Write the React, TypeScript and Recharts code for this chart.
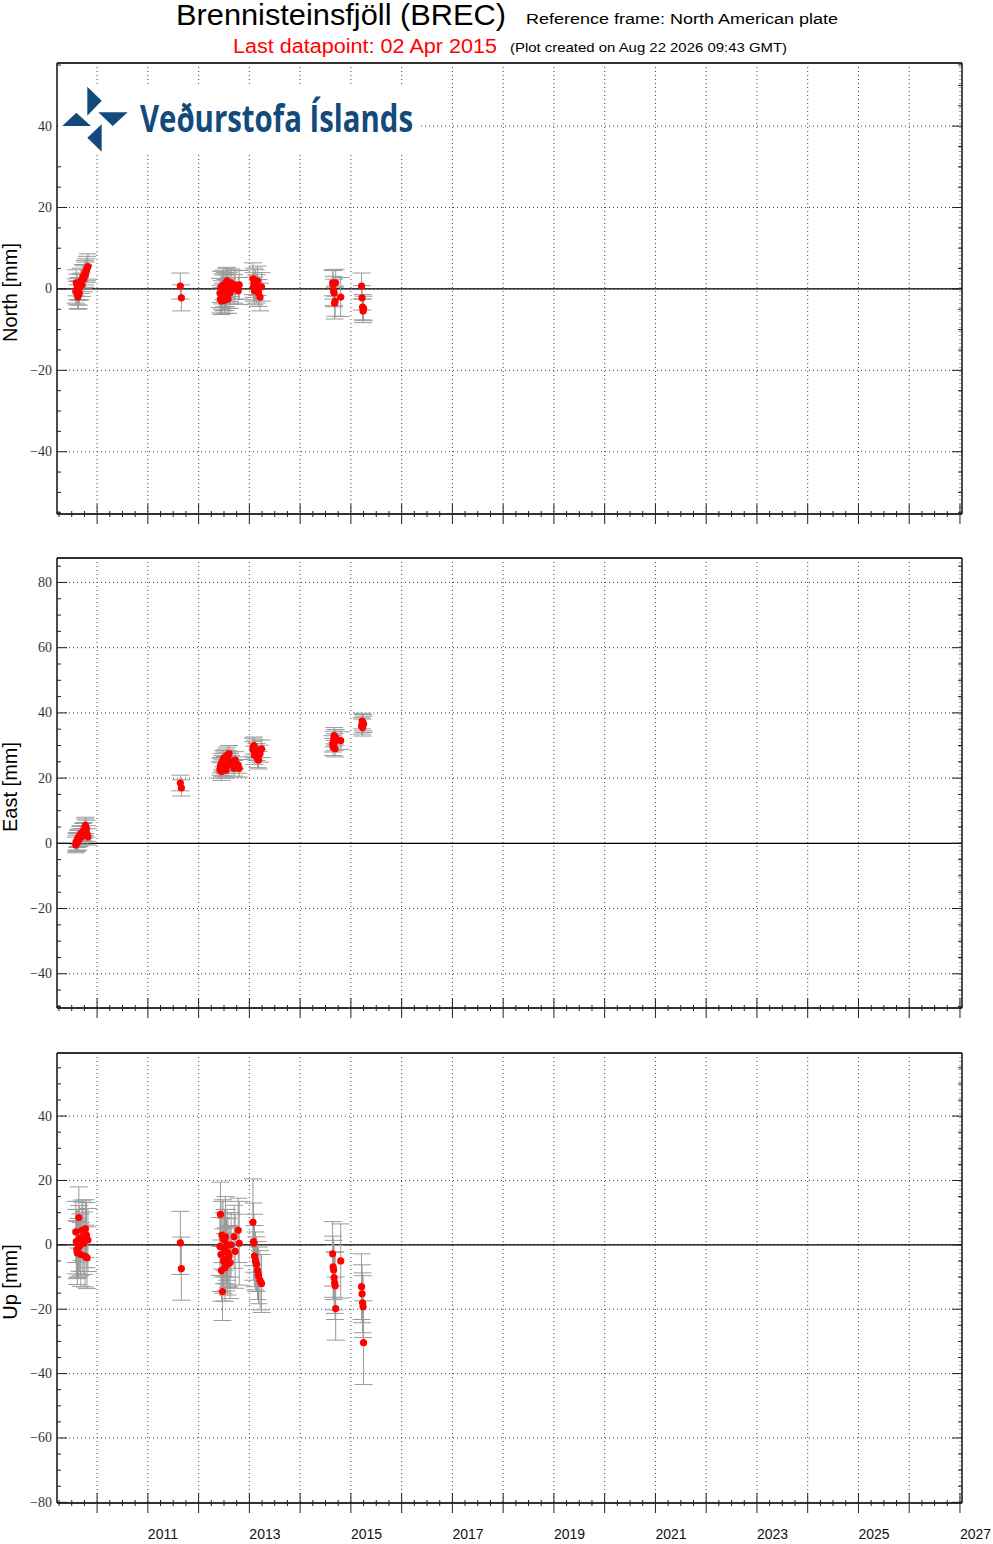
import React from "react";
import {
  CartesianGrid,
  ErrorBar,
  ReferenceLine,
  Scatter,
  ScatterChart,
  XAxis,
  YAxis,
} from "recharts";

// decimal-year epochs of the campaign measurements
const times = [
  2009.58, 2009.59, 2009.6, 2009.61, 2009.62, 2009.63, 2009.64, 2009.65, 2009.67, 2009.68,
  2009.7, 2009.72, 2009.74, 2009.76, 2009.77, 2009.79, 2009.8, 2009.82,
  2011.64, 2011.66,
  2012.42, 2012.43, 2012.44, 2012.45, 2012.46, 2012.47, 2012.48, 2012.49, 2012.5, 2012.51,
  2012.52, 2012.53, 2012.54, 2012.55, 2012.56, 2012.57, 2012.58, 2012.6, 2012.62, 2012.64,
  2012.7, 2012.72, 2012.78, 2012.8,
  2013.07, 2013.08, 2013.09, 2013.1, 2013.12, 2013.14, 2013.16, 2013.18, 2013.21, 2013.24,
  2014.64, 2014.65, 2014.66, 2014.67, 2014.68, 2014.69, 2014.7, 2014.8,
  2015.21, 2015.22, 2015.23, 2015.24, 2015.25,
];

const north = [
  -0.5, 1.5, -1.0, 0.5, -2.0, -1.5, 0.0, -1.0, 0.5, 2.0, 1.0, 3.0, 2.5, 4.0, 3.5, 4.5, 5.0, 5.5,
  0.7, -2.2,
  -1.0, -2.5, 0.5, -3.0, -1.5, 0.0, -2.0, 1.0, -0.5, -2.8, 0.5, -1.5, 1.5, -1.0, 2.0, 0.0,
  -2.5, 0.5, -1.0, 1.5, 0.0, 1.0, -0.5, 1.0,
  2.5, 0.5, 1.5, -0.5, 1.0, 0.0, 2.0, -1.0, -2.0, 0.5,
  1.5, 1.0, -0.5, -1.0, -3.5, -3.0, 1.5, -2.0,
  0.7, -2.2, -4.5, -5.4, -4.8,
];
const northErr = [
  3.0, 3.2, 2.9, 3.1, 3.0, 3.3, 2.8, 3.0, 3.2, 3.1, 2.9, 3.0, 3.2, 3.0, 3.1, 2.9, 3.0, 3.1,
  3.2, 3.2,
  3.6, 3.4, 3.8, 3.3, 3.5, 3.7, 3.4, 3.6, 3.9, 3.2, 3.5, 3.8, 3.6, 3.4, 3.3, 3.7,
  3.5, 3.6, 3.8, 3.4, 3.5, 3.6, 3.3, 3.5,
  3.9, 3.5, 3.6, 3.4, 3.7, 3.5, 3.6, 3.3, 3.4, 3.5,
  3.2, 3.5, 3.6, 3.4, 3.9, 3.7, 3.3, 4.8,
  3.2, 3.0, 3.1, 2.9, 3.0,
];

const east = [
  -0.5, 0.5, 0.0, 1.0, 1.5, 0.5, 2.0, 1.5, 2.5, 3.0, 2.0, 3.5, 4.0, 5.0, 5.5, 4.5, 3.0, 2.0,
  18.5, 17.0,
  22.5, 23.5, 24.0, 22.0, 25.0, 23.0, 24.5, 26.0, 23.5, 25.5, 24.0, 26.5, 22.5, 25.0, 27.0, 24.0,
  26.0, 27.5, 25.0, 24.5, 23.0, 25.5, 24.0, 23.0,
  29.5, 28.5, 30.0, 27.0, 29.0, 28.0, 26.0, 25.5, 27.5, 29.0,
  30.5, 29.5, 32.0, 33.0, 31.0, 29.0, 32.5, 31.5,
  36.0, 37.5, 35.5, 37.0, 36.5,
];
const eastErr = [
  2.4, 2.6, 2.5, 2.3, 2.5, 2.6, 2.4, 2.5, 2.7, 2.4, 2.5, 2.6, 2.4, 2.5, 2.5, 2.6, 2.4, 2.5,
  2.4, 2.5,
  2.5, 2.6, 2.4, 2.7, 2.5, 2.6, 2.4, 2.5, 2.8, 2.5, 2.6, 2.4, 2.5, 2.7, 2.5, 2.6,
  2.4, 2.5, 2.6, 2.5, 2.4, 2.6, 2.5, 2.7,
  2.8, 2.7, 2.6, 2.8, 2.7, 2.6, 2.8, 2.7, 2.6, 2.7,
  2.5, 2.6, 2.4, 2.5, 2.6, 2.5, 2.4, 2.7,
  2.5, 2.4, 2.6, 2.5, 2.5,
];

const up = [
  4.0, 1.0, -1.5, -2.5, 0.5, -1.0, 8.5, 2.0, 0.0, -3.0, 4.5, 2.5, 0.5, -3.5, 5.0, 3.0, -4.0, 1.5,
  0.6, -7.4,
  -0.5, 9.5, -3.0, -8.0, 3.0, -14.5, 2.0, -5.0, -1.0, 1.5, -7.0, 2.5, -4.5, -2.0, 0.0, -6.0,
  -2.5, -3.5, -5.5, 0.0, 2.5, -2.0, 4.5, 0.5,
  7.0, 1.0, 0.5, -3.5, -5.0, -6.0, -8.0, -9.5, -11.0, -12.0,
  -2.8, -6.8, -7.8, -10.2, -11.8, -12.7, -19.8, -5.0,
  -13.0, -15.2, -18.0, -19.2, -30.4,
];
const upErr = [
  9.5, 10.0, 9.0, 9.8, 10.5, 9.2, 9.5, 10.2, 9.6, 9.9, 9.4, 10.8, 9.7, 9.6, 9.0, 10.1, 9.6, 9.8,
  9.8, 9.8,
  9.0, 10.0, 11.5, 9.5, 10.5, 9.0, 12.0, 10.0, 11.0, 9.5, 10.5, 12.5, 9.8, 10.2, 11.0, 9.6,
  10.8, 9.5, 11.2, 10.0, 9.8, 11.5, 10.0, 13.0,
  13.5, 12.0, 9.0, 9.5, 9.0, 8.5, 9.0, 8.8, 9.2, 9.0,
  10.0, 9.5, 9.2, 10.0, 9.5, 10.5, 9.8, 11.5,
  10.2, 9.0, 9.3, 9.6, 13.0,
];

const gridYears = [
  2010, 2011, 2012, 2013, 2014, 2015, 2016, 2017, 2018, 2019, 2020, 2021, 2022, 2023, 2024,
  2025, 2026, 2027,
];
const yearLabels = [2011, 2013, 2015, 2017, 2019, 2021, 2023, 2025, 2027];

const northLabels = [-40, -20, 0, 20, 40];
const eastLabels = [-40, -20, 0, 20, 40, 60, 80];
const upLabels = [-80, -60, -40, -20, 0, 20, 40];

const X_DOMAIN: [number, number] = [2009.21, 2027.04];
const quarterTicks: number[] = [];
for (let y = 2009; y < 2027; y++) {
  [0.25, 0.5, 0.75, 1].forEach((q) => quarterTicks.push(y + q));
}

const minorTicks = (domain: [number, number]) => {
  const out: number[] = [];
  for (let v = Math.ceil(domain[0] / 5) * 5; v <= domain[1]; v += 5) out.push(v);
  return out;
};

const fmt = (v: number) => (v < 0 ? `\u2212${Math.abs(v)}` : `${v}`);

const Dot = (p: any) => <circle cx={p.cx} cy={p.cy} r={3.6} fill="#ff0000" />;

function XTick(p: any) {
  const v = p.payload.value;
  const major = Math.abs(v - Math.round(v)) < 1e-6;
  const len = major ? 10 : 3;
  const showLabel = p.showLabels && major && yearLabels.includes(Math.round(v));
  return (
    <g>
      <line x1={p.x} x2={p.x} y1={p.y - len} y2={p.y + len} stroke="#222" strokeWidth={1} />
      {showLabel && (
        <text
          x={p.x}
          y={p.y + 36}
          textAnchor="start"
          fontFamily="Liberation Sans, Arial, sans-serif"
          fontSize={14}
          fill="#111"
        >
          {Math.round(v)}
        </text>
      )}
    </g>
  );
}

function YTick(p: any) {
  const v = p.payload.value;
  const major = p.labels.includes(v);
  const len = major ? 10 : 4;
  const dir = p.side === "left" ? 1 : -1;
  return (
    <g>
      <line x1={p.x} x2={p.x + dir * len} y1={p.y} y2={p.y} stroke="#222" strokeWidth={1} />
      {major && p.side === "left" && (
        <text
          x={p.x - 5}
          y={p.y + 4.5}
          textAnchor="end"
          fontFamily="Liberation Serif, DejaVu Serif, serif"
          fontSize={14}
          fill="#333"
        >
          {fmt(v)}
        </text>
      )}
    </g>
  );
}

type PanelProps = {
  top: number;
  bottom: number;
  domain: [number, number];
  values: number[];
  errors: number[];
  labels: number[];
  title: string;
  showYears?: boolean;
};

const AXIS_H = 10;

function Panel({ top, bottom, domain, values, errors, labels, title, showYears }: PanelProps) {
  const padTop = 15;
  const padBottom = 41;
  const height = bottom - top + padTop + padBottom;
  const rows = times.map((t, i) => ({ t, v: values[i], e: errors[i] }));
  const ticks = minorTicks(domain);
  const mid = (top + bottom) / 2;

  return (
    <div style={{ position: "absolute", left: 0, top: top - padTop }}>
      <ScatterChart
        width={993}
        height={height}
        margin={{ top: padTop - AXIS_H, bottom: padBottom - AXIS_H, left: 27, right: 1 }}
      >
        <CartesianGrid
          horizontalValues={labels}
          verticalValues={gridYears}
          stroke="#444"
          strokeDasharray="1 3"
        />
        <XAxis
          type="number"
          dataKey="t"
          domain={X_DOMAIN}
          allowDataOverflow
          ticks={quarterTicks}
          interval={0}
          height={AXIS_H}
          tickSize={0}
          tickMargin={0}
          axisLine={{ stroke: "#333", strokeWidth: 2 }}
          tick={(p: any) => <XTick {...p} showLabels={showYears} />}
        />
        <XAxis
          xAxisId="top"
          orientation="top"
          type="number"
          domain={X_DOMAIN}
          allowDataOverflow
          ticks={quarterTicks}
          interval={0}
          height={AXIS_H}
          tickSize={0}
          tickMargin={0}
          axisLine={{ stroke: "#333", strokeWidth: 2 }}
          tick={(p: any) => <XTick {...p} showLabels={false} />}
        />
        <YAxis
          type="number"
          dataKey="v"
          domain={domain}
          allowDataOverflow
          ticks={ticks}
          interval={0}
          width={30}
          tickSize={0}
          tickMargin={0}
          axisLine={{ stroke: "#111", strokeWidth: 1.5 }}
          tick={(p: any) => <YTick {...p} labels={labels} side="left" />}
        />
        <YAxis
          yAxisId="right"
          orientation="right"
          type="number"
          domain={domain}
          allowDataOverflow
          ticks={ticks}
          interval={0}
          width={30}
          tickSize={0}
          tickMargin={0}
          axisLine={{ stroke: "#111", strokeWidth: 1.5 }}
          tick={(p: any) => <YTick {...p} labels={labels} side="right" />}
        />
        <ReferenceLine y={0} stroke="#000" strokeWidth={1.3} />
        <Scatter data={rows} isAnimationActive={false} shape={Dot}>
          <ErrorBar dataKey="e" direction="y" width={9} stroke="#9a9a9a" strokeWidth={1} />
        </Scatter>
      </ScatterChart>
      <svg width={30} height={height} style={{ position: "absolute", left: 0, top: 0 }}>
        <text
          transform={`translate(17, ${mid - top + padTop + 4}) rotate(-90)`}
          textAnchor="middle"
          fontFamily="Liberation Sans, Arial, sans-serif"
          fontSize={20}
          fill="#000"
        >
          {title}
        </text>
      </svg>
    </div>
  );
}

function Header() {
  const sans = "Liberation Sans, Arial, sans-serif";
  return (
    <svg width={993} height={160} style={{ position: "absolute", left: 0, top: 0 }}>
      <text x={176} y={25} fontFamily={sans} fontSize={29} textLength={330} lengthAdjust="spacingAndGlyphs">
        Brennisteinsfjöll (BREC)
      </text>
      <text x={526} y={24} fontFamily={sans} fontSize={15.5} textLength={312} lengthAdjust="spacingAndGlyphs">
        Reference frame: North American plate
      </text>
      <text x={233} y={53} fontFamily={sans} fontSize={20} fill="#ff0000" textLength={264} lengthAdjust="spacingAndGlyphs">
        Last datapoint: 02 Apr 2015
      </text>
      <text x={510} y={52} fontFamily={sans} fontSize={13} textLength={277} lengthAdjust="spacingAndGlyphs">
        (Plot created on Aug 22 2026 09:43 GMT)
      </text>
      <rect x={58} y={84} width={360} height={70} fill="#fff" />
      <g fill="#134a7c">
        <polygon points="87.3,86.7 101.7,100.7 87.3,115.7" />
        <polygon points="62.3,126 76.3,112.7 91,126" />
        <polygon points="98.3,112.3 127.7,112.3 112.7,126" />
        <polygon points="101.7,124.3 101.7,151.7 87.3,137.7" />
        <text
          x={140}
          y={132}
          fontFamily="Open Sans, sans-serif"
          fontWeight={700}
          fontSize={37}
          textLength={273}
          lengthAdjust="spacingAndGlyphs"
        >
          Veðurstofa Íslands
        </text>
      </g>
    </svg>
  );
}

export default function App() {
  return (
    <div
      style={{
        position: "absolute",
        left: 0,
        top: 0,
        width: 993,
        height: 1544,
        background: "#fff",
        overflow: "hidden",
      }}
    >
      <Panel top={63} bottom={514} domain={[-55.3, 55.5]} values={north} errors={northErr} labels={northLabels} title="North [mm]" />
      <Panel top={558} bottom={1008} domain={[-50.5, 87.5]} values={east} errors={eastErr} labels={eastLabels} title="East [mm]" />
      <Panel top={1053} bottom={1503} domain={[-80.2, 59.6]} values={up} errors={upErr} labels={upLabels} title="Up [mm]" showYears />
      <Header />
    </div>
  );
}
